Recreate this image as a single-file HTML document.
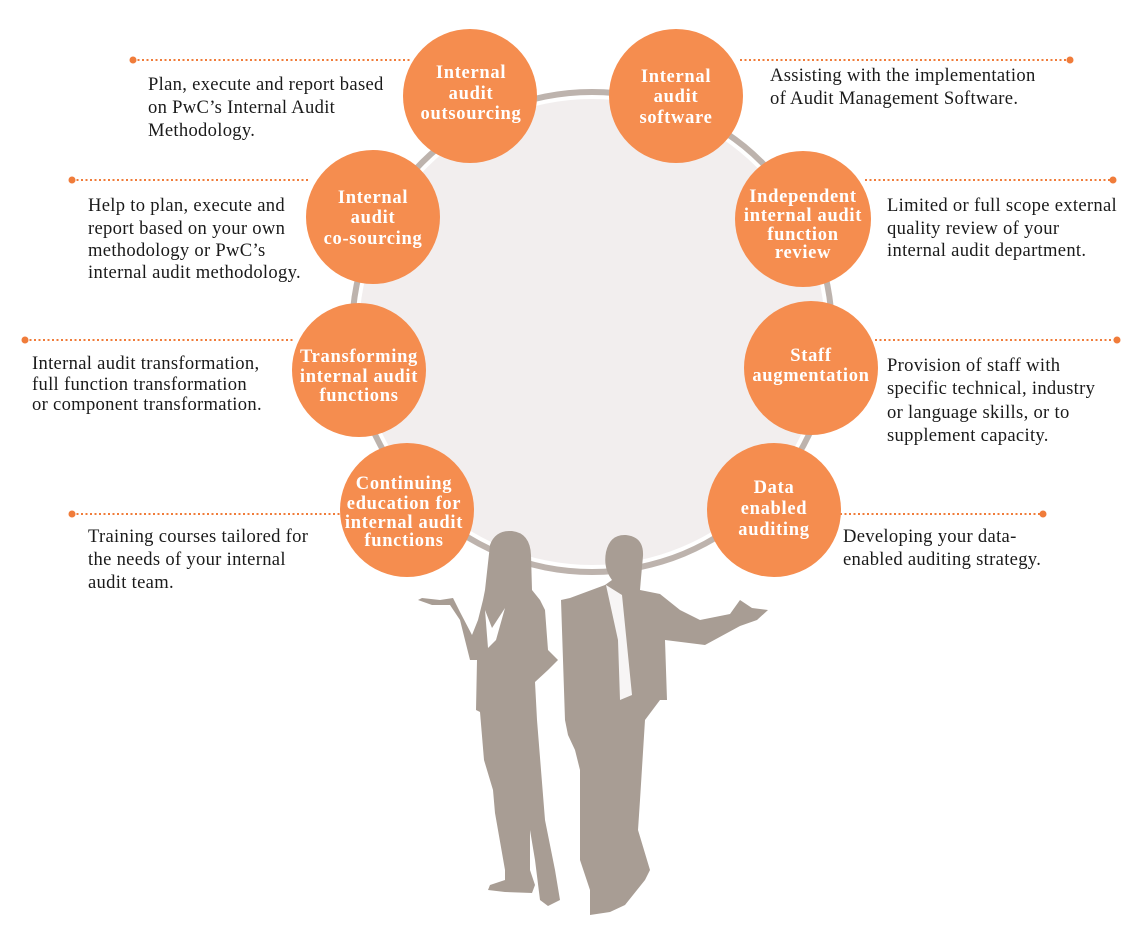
<!DOCTYPE html>
<html><head><meta charset="utf-8"><style>
html,body{margin:0;padding:0;background:#fff;}
svg{display:block;}
.c{fill:#f58d4f;}
.t{font-family:"Liberation Serif",serif;font-weight:bold;font-size:18.5px;letter-spacing:0.7px;fill:#fff;text-anchor:middle;}
.d{font-family:"Liberation Serif",serif;font-size:18.6px;letter-spacing:0.3px;fill:#1a1a1a;}
.l{stroke:#f07c3a;stroke-width:2;stroke-dasharray:2 2.5;fill:none;}
.p{fill:#f07c3a;}
</style></head><body>
<svg width="1148" height="942" viewBox="0 0 1148 942">
<circle cx="592" cy="332" r="243" fill="#bdb3ad"/>
<circle cx="592" cy="332" r="237" fill="#fff"/>
<circle cx="592" cy="332" r="233" fill="#f2eeee"/>

<g fill="#a89d94">
<path d="M490 545 Q495 530 512 531 Q530 533 531 555 L532 590 L540 600 L545 610 L548 650 L558 660 L548 670 L535 682 L537 720 L545 820 L555 870 L560 900 L548 906 L540 900 L535 860 L530 830 L530 870 L535 885 L532 893 L505 892 L488 890 L490 885 L505 880 L505 870 L495 813 L493 790 L484 760 L480 712 L476 710 L477 660 L470 660 L460 620 L450 605 L432 605 L418 600 L422 598 L440 600 L453 598 L460 612 L472 635 L478 620 L483 600 L485 590 Z"/>
<path d="M612 580 Q603 568 606 552 Q610 534 626 535 Q644 537 643 556 L641 578 L640 590 L660 594 L680 610 L700 620 L730 614 L740 600 L752 608 L768 610 L757 620 L740 626 L705 645 L665 640 L667 700 L660 700 L645 720 L640 800 L638 830 L650 870 L645 880 L625 905 L610 912 L590 915 L590 890 L580 860 L580 770 L575 750 L568 735 L565 720 L561 600 L570 598 L605 585 Z"/>
</g>
<polygon points="485,610 492,628 505,608 496,640 488,648" fill="#fff"/>
<polygon points="606,585 622,595 632,695 620,700 618,640" fill="#fff" opacity="0.9"/>

<path class="l" d="M133 60H410M72 180H310M25 340H295M72 514H345M740 60H1070M865 180H1113M875 340H1117M840 514H1043"/>
<circle class="p" cx="133" cy="60" r="3.5"/><circle class="p" cx="72" cy="180" r="3.5"/>
<circle class="p" cx="25" cy="340" r="3.5"/><circle class="p" cx="72" cy="514" r="3.5"/>
<circle class="p" cx="1070" cy="60" r="3.5"/><circle class="p" cx="1113" cy="180" r="3.5"/>
<circle class="p" cx="1117" cy="340" r="3.5"/><circle class="p" cx="1043" cy="514" r="3.5"/>

<circle class="c" cx="470" cy="96" r="67"/>
<circle class="c" cx="676" cy="96" r="67"/>
<circle class="c" cx="373" cy="217" r="67"/>
<circle class="c" cx="803" cy="219" r="68"/>
<circle class="c" cx="359" cy="370" r="67"/>
<circle class="c" cx="811" cy="368" r="67"/>
<circle class="c" cx="407" cy="510" r="67"/>
<circle class="c" cx="774" cy="510" r="67"/>

<text class="t"><tspan x="471" y="78">Internal</tspan><tspan x="471" y="99">audit</tspan><tspan x="471" y="119">outsourcing</tspan></text>
<text class="t"><tspan x="676" y="82">Internal</tspan><tspan x="676" y="102">audit</tspan><tspan x="676" y="123">software</tspan></text>
<text class="t"><tspan x="373" y="203">Internal</tspan><tspan x="373" y="223">audit</tspan><tspan x="373" y="244">co-sourcing</tspan></text>
<text class="t"><tspan x="803" y="202">Independent</tspan><tspan x="803" y="221">internal audit</tspan><tspan x="803" y="240">function</tspan><tspan x="803" y="258">review</tspan></text>
<text class="t"><tspan x="359" y="362">Transforming</tspan><tspan x="359" y="382">internal audit</tspan><tspan x="359" y="401">functions</tspan></text>
<text class="t"><tspan x="811" y="361">Staff</tspan><tspan x="811" y="381">augmentation</tspan></text>
<text class="t"><tspan x="404" y="489">Continuing</tspan><tspan x="404" y="509">education for</tspan><tspan x="404" y="528">internal audit</tspan><tspan x="404" y="546">functions</tspan></text>
<text class="t"><tspan x="774" y="493">Data</tspan><tspan x="774" y="514">enabled</tspan><tspan x="774" y="535">auditing</tspan></text>

<text class="d"><tspan x="148" y="90">Plan, execute and report based</tspan><tspan x="148" y="113">on PwC’s Internal Audit</tspan><tspan x="148" y="136">Methodology.</tspan></text>
<text class="d"><tspan x="88" y="211">Help to plan, execute and</tspan><tspan x="88" y="234">report based on your own</tspan><tspan x="88" y="256">methodology or PwC’s</tspan><tspan x="88" y="278">internal audit methodology.</tspan></text>
<text class="d"><tspan x="32" y="369">Internal audit transformation,</tspan><tspan x="32" y="390">full function transformation</tspan><tspan x="32" y="410">or component transformation.</tspan></text>
<text class="d"><tspan x="88" y="542">Training courses tailored for</tspan><tspan x="88" y="565">the needs of your internal</tspan><tspan x="88" y="588">audit team.</tspan></text>
<text class="d"><tspan x="770" y="81">Assisting with the implementation</tspan><tspan x="770" y="104">of Audit Management Software.</tspan></text>
<text class="d"><tspan x="887" y="211">Limited or full scope external</tspan><tspan x="887" y="234">quality review of your</tspan><tspan x="887" y="256">internal audit department.</tspan></text>
<text class="d"><tspan x="887" y="371">Provision of staff with</tspan><tspan x="887" y="394">specific technical, industry</tspan><tspan x="887" y="418">or language skills, or to</tspan><tspan x="887" y="441">supplement capacity.</tspan></text>
<text class="d"><tspan x="843" y="542">Developing your data-</tspan><tspan x="843" y="565">enabled auditing strategy.</tspan></text>
</svg>
</body></html>
